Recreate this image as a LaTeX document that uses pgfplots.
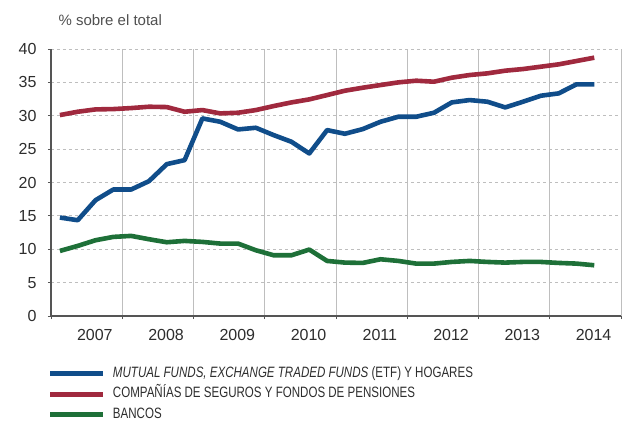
\documentclass[border=0pt]{standalone}
\usepackage{pgfplots}
\usepackage{pgfplotstable}
\pgfplotsset{compat=1.18}
\usepackage{fontspec}
\setmainfont{Liberation Sans}
\newfontfamily\condfont[FakeStretch=0.77]{Liberation Sans}
\definecolor{cblue}{RGB}{16,77,138}
\definecolor{cred}{RGB}{160,41,62}
\definecolor{cgreen}{RGB}{30,112,56}
\definecolor{gridc}{RGB}{190,190,190}
\definecolor{axc}{RGB}{85,85,85}
\definecolor{txt}{RGB}{45,45,45}
\definecolor{ttl}{RGB}{80,80,80}

\pgfplotstableread{
x blue red green
0.125 14.75 30.10 9.75
0.375 14.35 30.60 10.50
0.625 17.35 30.95 11.35
0.875 18.95 31.00 11.85
1.125 18.95 31.15 12.00
1.375 20.20 31.35 11.50
1.625 22.75 31.30 11.05
1.875 23.35 30.60 11.25
2.125 29.60 30.85 11.10
2.375 29.10 30.35 10.85
2.625 27.95 30.45 10.85
2.875 28.20 30.85 9.85
3.125 27.10 31.45 9.10
3.375 26.10 32.00 9.10
3.625 24.35 32.45 9.95
3.875 27.85 33.10 8.25
4.125 27.30 33.75 8.00
4.375 28.00 34.20 7.95
4.625 29.10 34.60 8.50
4.875 29.85 35.00 8.25
5.125 29.85 35.25 7.85
5.375 30.45 35.10 7.85
5.625 32.00 35.70 8.10
5.875 32.35 36.10 8.25
6.125 32.10 36.35 8.10
6.375 31.25 36.75 8.00
6.625 32.10 37.00 8.10
6.875 33.00 37.35 8.10
7.125 33.35 37.70 7.95
7.375 34.70 38.20 7.85
7.625 34.70 38.70 7.60
}\data

\begin{document}
\begin{tikzpicture}
\path[use as bounding box] (-51pt,-107pt) rectangle (573pt,316pt);
\begin{axis}[
  scale only axis, width=570pt, height=267pt,
  xmin=0, xmax=8, ymin=0, ymax=40,
  axis lines=left,
  axis line style={-, draw=axc, line width=1.1pt},
  x axis line style={-}, y axis line style={-},
  xtick={0,...,8}, xticklabels={},
  extra x ticks={0.615,1.615,2.615,3.615,4.615,5.615,6.615,7.615},
  extra x tick labels={2007,2008,2009,2010,2011,2012,2013,2014},
  extra x tick style={grid=none, major tick length=0pt,
     xticklabel style={yshift=-10pt}},
  ytick={0,5,...,40},
  yticklabel style={xshift=-8pt},
  tick align=outside, major tick length=3pt,
  tick style={draw=axc, line width=0.8pt},
  xmajorgrids, ymajorgrids,
  x grid style={draw=gridc, line width=0.9pt},
  y grid style={draw=gridc, line width=0.8pt, dash pattern=on 3pt off 3pt},
  tick label style={font=\fontsize{16}{18}\selectfont, text=txt},
  /pgf/number format/assume math mode=true,
  clip=false,
  legend style={draw=none, fill=none, inner sep=0pt, outer sep=0pt,
    at={(axis description cs:0,0)}, anchor=north west,
    xshift=-3pt, yshift=-50pt,
    font=\condfont\fontsize{15}{18}\selectfont, text=txt,
    column sep=8pt,
    nodes={inner sep=0pt, text height=11pt, text depth=9.7pt}},
  legend cell align=left,
  legend image code/.code={\draw[#1, line width=5pt, line cap=butt] (0pt,3pt) -- (52pt,3pt);},
]
\addplot[cblue, line width=4.6pt, line join=round] table[x=x, y=blue] {\data};
\addlegendentry{{\itshape MUTUAL FUNDS, EXCHANGE TRADED FUNDS} (ETF) Y HOGARES}
\addplot[cred, line width=4.6pt, line join=round] table[x=x, y=red] {\data};
\addlegendentry{COMPAÑÍAS DE SEGUROS Y FONDOS DE PENSIONES}
\addplot[cgreen, line width=4.6pt, line join=round] table[x=x, y=green] {\data};
\addlegendentry{BANCOS}
\node[anchor=base west, font=\fontsize{15}{18}\selectfont, text=ttl]
  at (rel axis cs:0,1) [xshift=4pt, yshift=23.5pt] {\% sobre el total};
\end{axis}
\end{tikzpicture}
\end{document}
